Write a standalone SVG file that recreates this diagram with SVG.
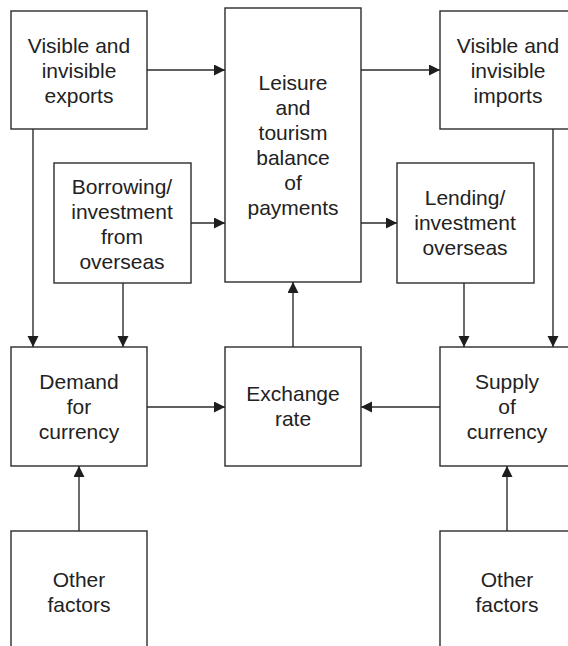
<svg xmlns="http://www.w3.org/2000/svg" width="568" height="646" viewBox="0 0 568 646">
<style>
.box{fill:#fff;stroke:#2b2b2b;stroke-width:1.4}
.lbl{font-family:"Liberation Sans",Arial,sans-serif;font-size:21px;fill:#222;text-anchor:middle}
.edge{fill:none;stroke:#2b2b2b;stroke-width:1.4}
</style>
<defs>
<marker id="ah" markerUnits="userSpaceOnUse" markerWidth="12" markerHeight="12" refX="11" refY="5.5" orient="auto">
<path d="M0,0 L11,5.5 L0,11 z" fill="#1e1e1e"/>
</marker>
</defs>
<rect width="568" height="646" fill="#fff"/>
<g id="connectors">
<line class="edge" x1="147" y1="70" x2="225" y2="70" marker-end="url(#ah)"/>
<line class="edge" x1="361" y1="70" x2="440" y2="70" marker-end="url(#ah)"/>
<line class="edge" x1="191" y1="223" x2="225" y2="223" marker-end="url(#ah)"/>
<line class="edge" x1="361" y1="223" x2="397" y2="223" marker-end="url(#ah)"/>
<line class="edge" x1="33" y1="129" x2="33" y2="347" marker-end="url(#ah)"/>
<line class="edge" x1="123" y1="283" x2="123" y2="347" marker-end="url(#ah)"/>
<line class="edge" x1="464" y1="283" x2="464" y2="347" marker-end="url(#ah)"/>
<line class="edge" x1="553" y1="129" x2="553" y2="347" marker-end="url(#ah)"/>
<line class="edge" x1="147" y1="407" x2="225" y2="407" marker-end="url(#ah)"/>
<line class="edge" x1="440" y1="407" x2="361" y2="407" marker-end="url(#ah)"/>
<line class="edge" x1="293" y1="347" x2="293" y2="282" marker-end="url(#ah)"/>
<line class="edge" x1="79" y1="531" x2="79" y2="466" marker-end="url(#ah)"/>
<line class="edge" x1="507" y1="531" x2="507" y2="466" marker-end="url(#ah)"/>
</g>
<g id="exports">
<rect class="box" x="11" y="11" width="136" height="118"/>
<text class="lbl" x="79" y="53">Visible and</text>
<text class="lbl" x="79" y="78">invisible</text>
<text class="lbl" x="79" y="103">exports</text>
</g>
<g id="leisure">
<rect class="box" x="225" y="8" width="136" height="274"/>
<text class="lbl" x="293" y="90">Leisure</text>
<text class="lbl" x="293" y="115">and</text>
<text class="lbl" x="293" y="140">tourism</text>
<text class="lbl" x="293" y="165">balance</text>
<text class="lbl" x="293" y="190">of</text>
<text class="lbl" x="293" y="215">payments</text>
</g>
<g id="imports">
<rect class="box" x="440" y="11" width="136" height="118"/>
<text class="lbl" x="508" y="53">Visible and</text>
<text class="lbl" x="508" y="78">invisible</text>
<text class="lbl" x="508" y="103">imports</text>
</g>
<g id="borrowing">
<rect class="box" x="54" y="163" width="137" height="120"/>
<text class="lbl" x="122" y="194">Borrowing/</text>
<text class="lbl" x="122" y="219">investment</text>
<text class="lbl" x="122" y="244">from</text>
<text class="lbl" x="122" y="269">overseas</text>
</g>
<g id="lending">
<rect class="box" x="397" y="163" width="137" height="120"/>
<text class="lbl" x="465" y="205">Lending/</text>
<text class="lbl" x="465" y="230">investment</text>
<text class="lbl" x="465" y="255">overseas</text>
</g>
<g id="demand">
<rect class="box" x="11" y="347" width="136" height="119"/>
<text class="lbl" x="79" y="389">Demand</text>
<text class="lbl" x="79" y="414">for</text>
<text class="lbl" x="79" y="439">currency</text>
</g>
<g id="exchange">
<rect class="box" x="225" y="347" width="136" height="119"/>
<text class="lbl" x="293" y="401">Exchange</text>
<text class="lbl" x="293" y="426">rate</text>
</g>
<g id="supply">
<rect class="box" x="440" y="347" width="136" height="119"/>
<text class="lbl" x="507" y="389">Supply</text>
<text class="lbl" x="507" y="414">of</text>
<text class="lbl" x="507" y="439">currency</text>
</g>
<g id="other-left">
<rect class="box" x="11" y="531" width="136" height="125"/>
<text class="lbl" x="79" y="587">Other</text>
<text class="lbl" x="79" y="612">factors</text>
</g>
<g id="other-right">
<rect class="box" x="440" y="531" width="136" height="125"/>
<text class="lbl" x="507" y="587">Other</text>
<text class="lbl" x="507" y="612">factors</text>
</g>
</svg>
